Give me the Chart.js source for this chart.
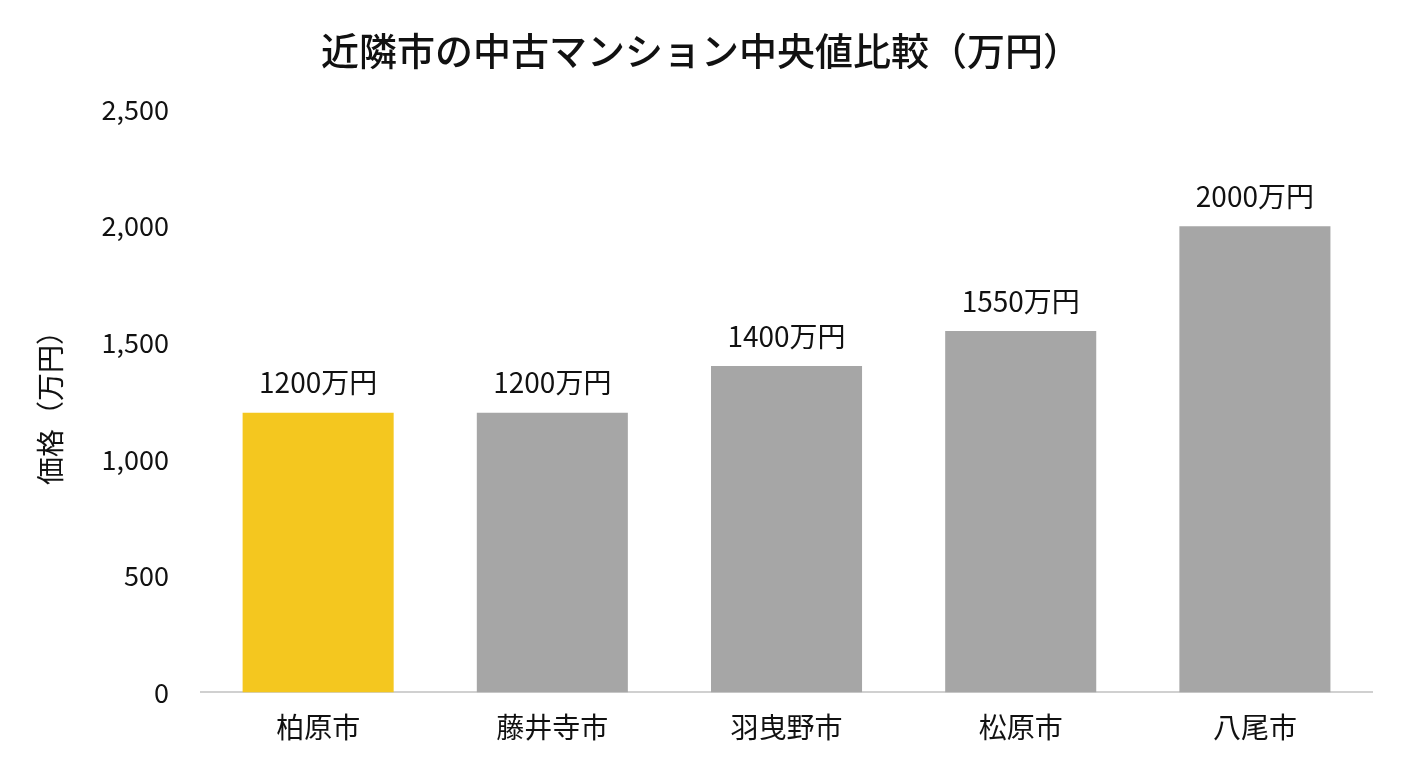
<!DOCTYPE html>
<html><head><meta charset="utf-8">
<script src="https://cdn.jsdelivr.net/npm/chart.js@4"></script>
<style>html,body{margin:0;background:#fff}#w{width:1408px;height:768px}</style>
</head><body><div id="w"><canvas id="c"></canvas></div>
<script>
const categories=["柏原市","藤井寺市","羽曳野市","松原市","八尾市"];
const values=[1200,1200,1400,1550,2000];
const colors=["#F4C71F","#A6A6A6","#A6A6A6","#A6A6A6","#A6A6A6"];
const F="'Noto Sans CJK JP','Noto Sans',sans-serif";
const labels={id:'lbl',afterDatasetsDraw(ch){const c=ch.ctx;const m=ch.getDatasetMeta(0);c.save();c.font="28px "+F;c.fillStyle="#111";c.textAlign="center";c.textBaseline="bottom";
m.data.forEach((b,i)=>c.fillText(values[i]+"万円",b.x,b.y-16));c.restore();}};
new Chart(document.getElementById('c'),{type:'bar',
data:{labels:categories,datasets:[{data:values,backgroundColor:colors,barPercentage:0.645,categoryPercentage:1}]},
options:{responsive:true,maintainAspectRatio:false,animation:false,
layout:{padding:{left:30,right:36,top:10,bottom:14}},
plugins:{legend:{display:false},tooltip:{enabled:false},
title:{display:true,text:"近隣市の中古マンション中央値比較（万円）",color:"#111",font:{family:F,size:38,weight:'500'},padding:{top:18,bottom:36}}},
scales:{x:{grid:{display:false},border:{color:"#D0D0D0",width:2},ticks:{color:"#111",font:{family:F,size:28},padding:10}},
y:{min:0,max:2500,ticks:{stepSize:500,color:"#111",font:{family:F,size:27},padding:24},grid:{display:false},border:{display:false},
title:{display:true,text:"価格（万円）",color:"#111",font:{family:F,size:28},padding:{bottom:10}}}}},
plugins:[labels]});
</script></body></html>
